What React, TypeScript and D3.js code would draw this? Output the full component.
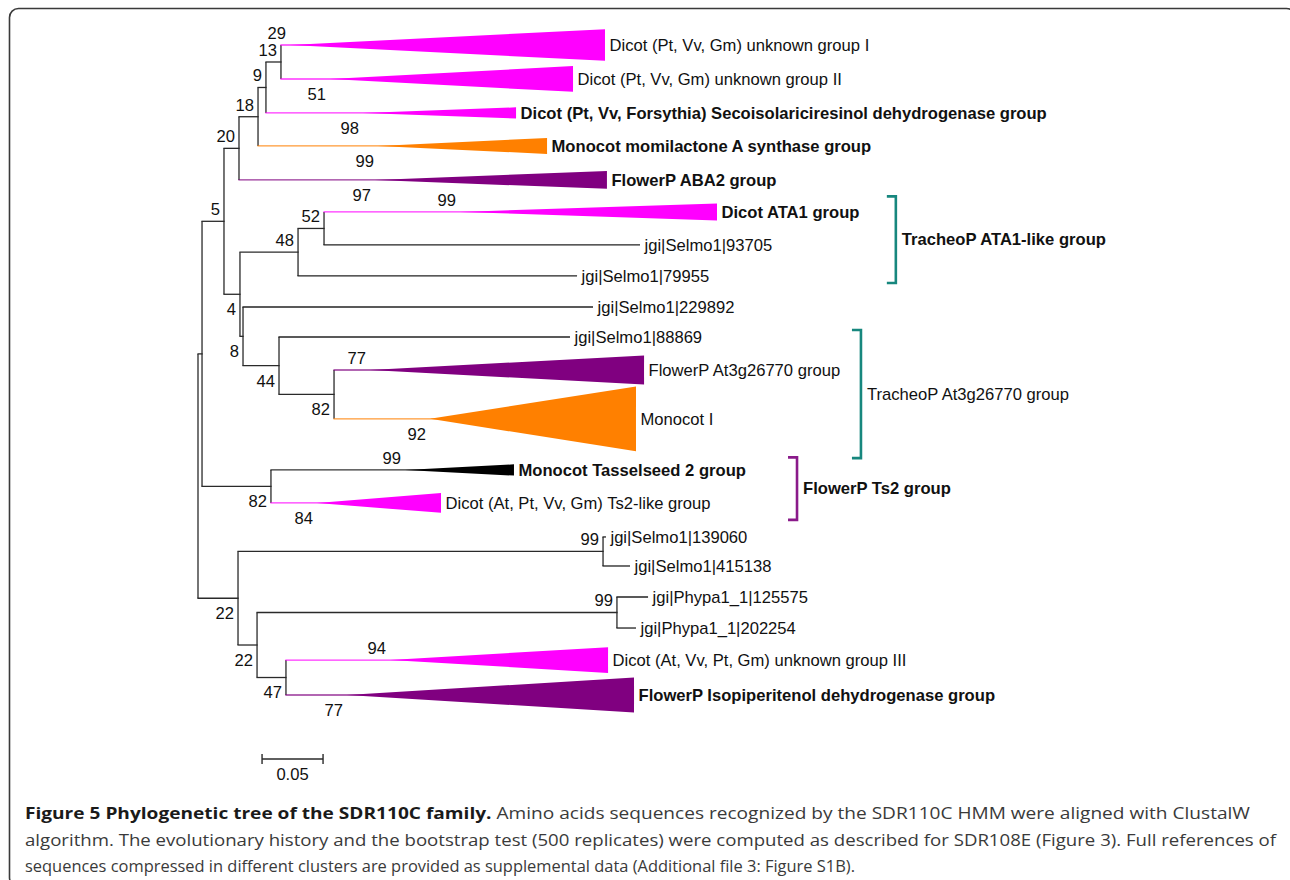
import React from 'react';
import * as d3 from 'd3';

// internal nodes of the tree (parents listed before their children)
const nodeIds = ['R', 'F', 'E', 'D', 'C', 'B', 'A', 'G', 'H', 'K', 'I', 'J', 'L', 'N', 'M', 'O', 'P', 'Q', 'S'];
const nodeParents = [null, 'R', 'F', 'E', 'D', 'C', 'B', 'E', 'G', 'H', 'G', 'I', 'J', 'F', 'R', 'M', 'M', 'P', 'P'];
const nodeBranch = [0, 0.0033, 0.018, 0.0123, 0.0156, 0.0065, 0.0123, 0.0131, 0.0476, 0.0213, 0.0025, 0.0295, 0.0451, 0.0565, 0.0328, 0.2992, 0.0156, 0.295, 0.0237];
const nodeSupport = [null, null, 5, 20, 18, 9, 13, 4, 48, 52, 8, 44, 82, 82, 22, 99, 22, 99, 47];
const nodeSupportSide = ['', '', 'up', 'up', 'up', 'up', 'up', 'down', 'up', 'up', 'down', 'down', 'down', 'down', 'down', 'up', 'down', 'up', 'down'];

// leaves and collapsed clades, top to bottom
const leafNames = [
  'Dicot (Pt, Vv, Gm) unknown group I',
  'Dicot (Pt, Vv, Gm) unknown group II',
  'Dicot (Pt, Vv, Forsythia) Secoisolariciresinol dehydrogenase group',
  'Monocot momilactone A synthase group',
  'FlowerP ABA2 group',
  'Dicot ATA1 group',
  'jgi|Selmo1|93705',
  'jgi|Selmo1|79955',
  'jgi|Selmo1|229892',
  'jgi|Selmo1|88869',
  'FlowerP At3g26770 group',
  'Monocot I',
  'Monocot Tasselseed 2 group',
  'Dicot (At, Pt, Vv, Gm) Ts2-like group',
  'jgi|Selmo1|139060',
  'jgi|Selmo1|415138',
  'jgi|Phypa1_1|125575',
  'jgi|Phypa1_1|202254',
  'Dicot (At, Vv, Pt, Gm) unknown group III',
  'FlowerP Isopiperitenol dehydrogenase group',
];
const leafParents = ['A', 'A', 'B', 'C', 'D', 'K', 'K', 'H', 'I', 'J', 'L', 'L', 'N', 'N', 'O', 'O', 'Q', 'Q', 'S', 'S'];
const leafBranch = [0.0074, 0.0402, 0.0795, 0.0983, 0.1115, 0.1115, 0.259, 0.2287, 0.2869, 0.2385, 0.0295, 0.0787, 0.1099, 0.0377, 0.0024, 0.0221, 0.0255, 0.0156, 0.0853, 0.05];
const leafCladeDepth = [0.2582, 0.1992, 0.1255, 0.1386, 0.1901, 0.2106, 0, 0, 0, 0, 0.2246, 0.1688, 0.0893, 0.1017, 0, 0, 0, 0, 0.1787, 0.2353];
const leafCladeSpread = [0.48, 0.39, 0.17, 0.24, 0.27, 0.26, 0, 0, 0, 0, 0.44, 0.98, 0.17, 0.3, 0, 0, 0, 0, 0.39, 0.53];
const leafRows = [0, 1.03, 2.06, 3.06, 4.09, 5.06, 6.06, 7.0, 7.94, 8.85, 9.85, 11.33, 12.88, 13.88, 14.91, 15.79, 16.73, 17.67, 18.64, 19.7];
const leafSupport = [29, 51, 98, 99, 97, 99, null, null, null, null, 77, 92, 99, 84, null, null, null, null, 94, 77];
const leafSupportSide = ['up', 'down', 'down', 'down', 'down', 'up', '', '', '', '', 'up', 'down', 'up', 'down', '', '', '', '', 'up', 'down'];
const leafColors = ['#ff00ff', '#ff00ff', '#ff00ff', '#ff8000', '#800080', '#ff00ff', '#222', '#222', '#222', '#222', '#800080', '#ff8000', '#000000', '#ff00ff', '#222', '#222', '#222', '#222', '#ff00ff', '#800080'];
const leafBold = [false, false, true, true, true, true, false, false, false, false, false, false, true, false, false, false, false, false, false, true];

// clade brackets on the right
const bracketLabels = ['TracheoP ATA1-like group', 'TracheoP At3g26770 group', 'FlowerP Ts2 group'];
const bracketFirst = [5, 9, 12];
const bracketLast = [7, 11, 13];
const bracketDepth = [0.572, 0.5434, 0.491];
const bracketColors = ['#17877e', '#17877e', '#8a1a8a'];
const bracketBold = [true, false, true];

const scaleBarValue = 0.05;

const captionBold = 'Figure 5 Phylogenetic tree of the SDR110C family.';
const captionLines = [
  ' Amino acids sequences recognized by the SDR110C HMM were aligned with ClustalW',
  'algorithm. The evolutionary history and the bootstrap test (500 replicates) were computed as described for SDR108E (Figure 3). Full references of',
  'sequences compressed in different clusters are provided as supplemental data (Additional file 3: Figure S1B).',
];

const W = 1290;
const H = 880;
const FONT = '"Liberation Sans", Arial, Helvetica, sans-serif';
const LINE = '#2a2a2a';

const App: React.FC = () => {
  const x = d3.scaleLinear().domain([0, 0.05]).range([198, 259]);
  const y = d3.scaleLinear().domain([0, 19.7]).range([45, 695]);

  // depths
  const depth: Record<string, number> = {};
  nodeIds.forEach((id, i) => {
    const p = nodeParents[i];
    depth[id] = (p ? depth[p] : 0) + nodeBranch[i];
  });
  const leafApex = leafParents.map((p, i) => depth[p] + leafBranch[i]);
  const leafTip = leafApex.map((a, i) => a + leafCladeDepth[i]);

  // vertical positions: leaves from rows, nodes at midpoint of children
  const nodeY: Record<string, number> = {};
  const childYs = (id: string): number[] => {
    const ys: number[] = [];
    nodeIds.forEach((c, i) => { if (nodeParents[i] === id) ys.push(posY(c)); });
    leafParents.forEach((p, i) => { if (p === id) ys.push(y(leafRows[i])); });
    return ys;
  };
  function posY(id: string): number {
    if (nodeY[id] !== undefined) return nodeY[id];
    const ys = childYs(id);
    nodeY[id] = (d3.min(ys)! + d3.max(ys)!) / 2;
    return nodeY[id];
  }
  nodeIds.forEach(id => posY(id));

  const supportDy = (side: string) => (side === 'up' ? -12 : 15);

  return (
    <svg width={W} height={H} style={{ position: 'absolute', left: 0, top: 0, background: '#fff' }} fontFamily={FONT}>
      <rect x={0} y={0} width={W} height={H} fill="#fff" />
      <rect x={9.5} y={8.5} width={1286} height={878} rx={9} fill="none" stroke="#3a3a3a" strokeWidth={1.6} />

      {/* vertical node lines and branches to internal nodes */}
      {nodeIds.map((id, i) => {
        const ys = childYs(id);
        const p = nodeParents[i];
        return (
          <g key={id}>
            <line x1={x(depth[id])} x2={x(depth[id])} y1={d3.min(ys)!} y2={d3.max(ys)!} stroke={LINE} strokeWidth={1.3} />
            {p && (
              <line x1={x(depth[p]) - 0.6} x2={x(depth[id]) + 0.6} y1={nodeY[id]} y2={nodeY[id]} stroke={LINE} strokeWidth={1.3} />
            )}
            {nodeSupport[i] !== null && (
              <text x={x(depth[id]) - 4} y={nodeY[id] + supportDy(nodeSupportSide[i])} dy="0.35em" textAnchor="end" fontSize={16.6} fill="#111">
                {nodeSupport[i]}
              </text>
            )}
          </g>
        );
      })}

      {/* leaves and collapsed clades */}
      {leafNames.map((name, i) => {
        const ly = y(leafRows[i]);
        const px = x(depth[leafParents[i]]);
        const ax = x(leafApex[i]);
        const tx = x(leafTip[i]);
        const collapsed = leafCladeDepth[i] > 0;
        const s = y(leafCladeSpread[i]) - y(0);
        const col = leafColors[i];
        return (
          <g key={name}>
            <line x1={px - 0.6} x2={collapsed ? tx - 1 : ax} y1={ly} y2={ly} stroke={col} strokeOpacity={collapsed ? 0.8 : 1} strokeWidth={1.3} />
            {collapsed && <polygon points={`${ax},${ly} ${tx},${ly - s} ${tx},${ly + s}`} fill={col} />}
            {leafSupport[i] !== null && (
              <text x={ax - 4} y={ly + supportDy(leafSupportSide[i])} dy="0.35em" textAnchor="end" fontSize={16.6} fill="#111">
                {leafSupport[i]}
              </text>
            )}
            <text x={tx + 4.5} y={ly} dy="0.35em" fontSize={16.6} fontWeight={leafBold[i] ? 'bold' : 'normal'} fill="#111">
              {name}
            </text>
          </g>
        );
      })}

      {/* brackets */}
      {bracketLabels.map((lab, i) => {
        const f = bracketFirst[i];
        const l = bracketLast[i];
        const top = y(leafRows[f]) - (y(leafCladeSpread[f]) - y(0)) - 7;
        const bot = y(leafRows[l]) + (y(leafCladeSpread[l]) - y(0)) + 7;
        const bx = x(bracketDepth[i]);
        return (
          <g key={lab}>
            <path d={`M${bx - 9},${top} H${bx} V${bot} H${bx - 9}`} fill="none" stroke={bracketColors[i]} strokeWidth={2.6} />
            <text x={bx + 6} y={(top + bot) / 2} dy="0.35em" fontSize={16.6} fontWeight={bracketBold[i] ? 'bold' : 'normal'} fill="#111">
              {lab}
            </text>
          </g>
        );
      })}

      {/* scale bar */}
      <g stroke={LINE} strokeWidth={1.4}>
        <line x1={x(0.0525)} x2={x(0.0525 + scaleBarValue)} y1={y(21.64)} y2={y(21.64)} />
        <line x1={x(0.0525)} x2={x(0.0525)} y1={y(21.64) - 5} y2={y(21.64) + 5} />
        <line x1={x(0.0525 + scaleBarValue)} x2={x(0.0525 + scaleBarValue)} y1={y(21.64) - 5} y2={y(21.64) + 5} />
      </g>
      <text x={x(0.0525 + scaleBarValue / 2)} y={y(21.64) + 15} dy="0.35em" textAnchor="middle" fontSize={16.6} fill="#111">
        {scaleBarValue}
      </text>

      {/* caption */}
      <g fontFamily='"Open Sans", "Noto Sans", sans-serif' fontSize={16.5} fill="#3a3a3a">
        <text x={25} y={813} dy="0.35em" textLength={1225} lengthAdjust="spacingAndGlyphs">
          <tspan fontWeight="bold" fill="#1a1a1a">{captionBold}</tspan>
          <tspan>{captionLines[0]}</tspan>
        </text>
        <text x={25} y={840} dy="0.35em" textLength={1251} lengthAdjust="spacingAndGlyphs">{captionLines[1]}</text>
        <text x={25} y={866} dy="0.35em" textLength={830} lengthAdjust="spacingAndGlyphs">{captionLines[2]}</text>
      </g>
    </svg>
  );
};

export default App;
